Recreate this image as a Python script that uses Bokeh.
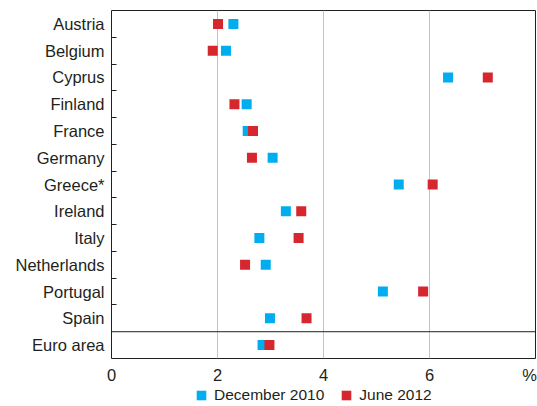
from bokeh.plotting import figure
from bokeh.layouts import column
from bokeh.models import (Range1d, FixedTicker, Span, Legend, LegendItem)
from bokeh.embed import file_html
from bokeh.resources import INLINE

countries = ["Austria", "Belgium", "Cyprus", "Finland", "France", "Germany",
             "Greece*", "Ireland", "Italy", "Netherlands", "Portugal", "Spain",
             "Euro area"]
dec2010 = [2.30, 2.16, 6.35, 2.55, 2.57, 3.04, 5.42, 3.29, 2.79, 2.91, 5.12, 2.99, 2.85]
jun2012 = [2.01, 1.91, 7.10, 2.32, 2.67, 2.65, 6.06, 3.58, 3.53, 2.52, 5.88, 3.68, 2.98]
x_ticks = [0, 2, 4, 6]
x_unit_label = "%"
x_unit_pos = 7.89
series_names = ["December 2010", "June 2012"]

BLUE = "#00AEEF"
RED = "#D6262E"
FONT = "Liberation Sans"
TXT = "#231F20"

n = len(countries)
ypos = [i + 0.5 for i in range(n)]

p = figure(width=537, height=386, output_backend="svg", toolbar_location=None,
           x_range=Range1d(0, 8), y_range=Range1d(n, 0),
           min_border_left=111, min_border_right=2, min_border_top=10,
           min_border_bottom=27)

p.outline_line_color = "#231F20"
p.outline_line_width = 1
p.background_fill_color = "white"
p.border_fill_color = "white"

# grid
p.xgrid.ticker = FixedTicker(ticks=[2, 4, 6])
p.xgrid.grid_line_color = "#C4C4C4"
p.xgrid.grid_line_width = 1
p.ygrid.grid_line_color = None

# x axis
xa = p.xaxis[0]
xa.ticker = FixedTicker(ticks=x_ticks + [x_unit_pos])
xa.major_label_overrides = {x_unit_pos: x_unit_label}
xa.axis_line_color = None
xa.major_tick_line_color = None
xa.minor_tick_line_color = None
xa.major_tick_in = 0
xa.major_tick_out = 0
xa.minor_tick_in = 0
xa.minor_tick_out = 0
xa.major_label_text_font = FONT
xa.major_label_text_font_size = "16.5px"
xa.major_label_text_color = TXT
xa.major_label_standoff = 7

# y axis
ya = p.yaxis[0]
ya.ticker = FixedTicker(ticks=ypos, minor_ticks=list(range(1, n - 1)))
ya.major_label_overrides = {y: c for y, c in zip(ypos, countries)}
ya.axis_line_color = None
ya.major_tick_line_color = None
ya.major_tick_in = 0
ya.major_tick_out = 0
ya.minor_tick_line_color = "#231F20"
ya.minor_tick_in = 5
ya.minor_tick_out = 0
ya.major_label_text_font = FONT
ya.major_label_text_font_size = "16.5px"
ya.major_label_text_color = TXT
ya.major_label_standoff = 7

# euro area separator
p.add_layout(Span(location=n - 1, dimension="width", line_color="#231F20", line_width=1))

p.scatter(dec2010, ypos, marker="square", size=10, fill_color=BLUE, line_color=None)
p.scatter(jun2012, ypos, marker="square", size=10, fill_color=RED, line_color=None)

# legend strip
lf = figure(width=537, height=20, output_backend="svg", toolbar_location=None,
            x_range=Range1d(0, 1), y_range=Range1d(0, 1),
            x_axis_type=None, y_axis_type=None,
            min_border_left=0, min_border_right=0, min_border_top=0, min_border_bottom=0)
lf.outline_line_color = None
lf.xgrid.grid_line_color = None
lf.ygrid.grid_line_color = None
l1 = lf.quad(left=[-6], right=[-5], bottom=[-6], top=[-5], fill_color=BLUE, line_color=None)
l2 = lf.quad(left=[-6], right=[-5], bottom=[-6], top=[-5], fill_color=RED, line_color=None)

legend = Legend(items=[LegendItem(label=series_names[0], renderers=[l1]),
                       LegendItem(label=series_names[1], renderers=[l2])],
                orientation="horizontal", location=(84, 2),
                padding=0, margin=0, spacing=16, label_standoff=7,
                glyph_width=12, glyph_height=12, label_height=12,
                border_line_color=None, background_fill_alpha=0,
                label_text_font=FONT, label_text_font_size="15.5px",
                label_text_color=TXT)
lf.add_layout(legend)

open("out.html", "w").write(file_html(column(p, lf, spacing=0), INLINE))
